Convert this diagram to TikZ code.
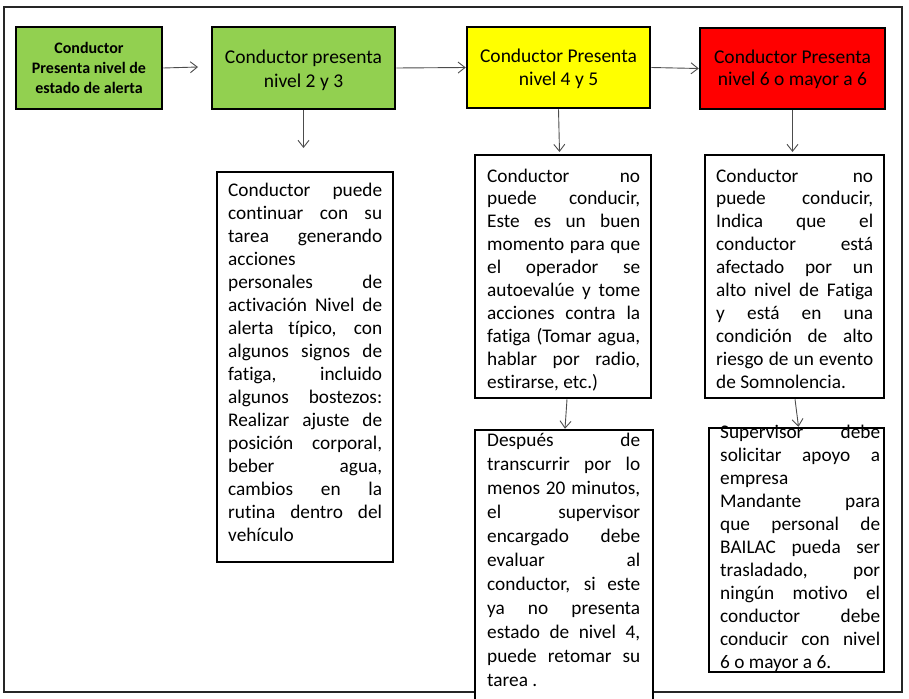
\documentclass[tikz,border=0pt]{standalone}
\usepackage{fontspec}
\setmainfont{Carlito}[Ligatures={NoCommon}]
\usetikzlibrary{arrows.meta}
\newcommand\rsp{\spaceskip=0pt\xspaceskip=0pt\relax}
\newcommand\jl[1]{\makebox[\linewidth][s]{\rsp #1}}
\newcommand\cl[1]{\makebox[\linewidth][c]{\rsp #1}}
\definecolor{boxgreen}{HTML}{92D050}
\definecolor{boxyellow}{HTML}{FFFF00}
\definecolor{boxred}{HTML}{FF0000}
\begin{document}
\begin{tikzpicture}[x=1pt,y=-1pt,
  hbox/.style={draw=black, line width=2.5pt, rectangle, inner sep=0pt},
  arr/.style={draw=black!70, line width=0.9pt, -{Straight Barb[length=7pt,width=11pt]}},
  frame/.style={draw=black!85, line width=1.5pt},
  head/.style={inner sep=0pt, anchor=base, align=center, font=\fontsize{19.5}{23.2}\selectfont},
  body/.style={inner sep=0pt, anchor=base west, align=left}]
\useasboundingbox (0,0) rectangle (909,698);
\clip (0,0) rectangle (909,698);
\draw[frame] (4,7) rectangle (902,692);
% header boxes
\node[hbox, fill=boxgreen, minimum width=146pt, minimum height=82pt] (b1) at (89,68) {};
\node[hbox, fill=boxgreen, minimum width=183pt, minimum height=82pt] (b2) at (303.5,68) {};
\node[hbox, fill=boxyellow, minimum width=183pt, minimum height=81pt] (b3) at (558.5,67.5) {};
\node[hbox, fill=boxred, minimum width=185pt, minimum height=81pt] (b4) at (792.5,68.5) {};
% text boxes
\node[hbox, fill=white, minimum width=176pt, minimum height=390pt] (b5) at (305,367) {};
\node[hbox, fill=white, minimum width=176pt, minimum height=243pt] (b6) at (563,276.5) {};
\node[hbox, fill=white, minimum width=179pt, minimum height=243pt] (b7) at (794.5,276.5) {};
\node[hbox, fill=white, minimum width=178pt, minimum height=280pt] (b8) at (564,570) {};
\node[hbox, fill=white, minimum width=175pt, minimum height=244pt] (b9) at (796.5,550) {};
% header texts
\node[inner sep=0pt, anchor=base, align=center, text width=146pt, font=\fontsize{16}{20}\selectfont\bfseries] (t1) at (89,53.3) {\cl{Conductor}\\\cl{Presenta nivel de}\\\cl{estado de alerta}};
\node[head, text width=183pt] (t2) at (303.5,64) {\cl{Conductor presenta}\\\cl{nivel 2 y 3}};
\node[head, text width=183pt, font=\fontsize{19.5}{22.4}\selectfont] (t3) at (558.5,62.7) {\cl{Conductor Presenta}\\\cl{nivel 4 y 5}};
\node[head, text width=185pt, font=\fontsize{19.5}{22.7}\selectfont] (t4) at (792.5,63.3) {\cl{Conductor Presenta}\\\cl{nivel 6 o mayor a 6}};
% body texts
\node[body, text width=154pt, font=\fontsize{19.3}{23}\selectfont] (t5) at (228,196) {\rsp
\jl{Conductor puede}\\
\jl{continuar con su}\\
\jl{tarea generando}\\
acciones\\
\jl{personales de}\\
\jl{activación Nivel de}\\
\jl{alerta típico, con}\\
\jl{algunos signos de}\\
\jl{fatiga, incluido}\\
\jl{algunos bostezos:}\\
\jl{Realizar ajuste de}\\
\jl{posición corporal,}\\
\jl{beber agua,}\\
\jl{cambios en la}\\
\jl{rutina dentro del}\\
vehículo};
\node[body, text width=153pt, font=\fontsize{19.3}{22.9}\selectfont] (t6) at (487,182) {\rsp
\jl{Conductor no}\\
\jl{puede conducir,}\\
\jl{Este es un buen}\\
\jl{momento para que}\\
\jl{el operador se}\\
\jl{autoevalúe y tome}\\
\jl{acciones contra la}\\
\jl{fatiga (Tomar agua,}\\
\jl{hablar por radio,}\\
\rsp estirarse, etc.)};
\node[body, text width=157pt, font=\fontsize{19.3}{22.9}\selectfont] (t7) at (716,182) {\rsp
\jl{Conductor no}\\
\jl{puede conducir,}\\
\jl{Indica que el}\\
\jl{conductor está}\\
\jl{afectado por un}\\
\jl{alto nivel de Fatiga}\\
\jl{y está en una}\\
\jl{condición de alto}\\
\jl{riesgo de un evento}\\
\rsp de Somnolencia.};
\node[body, text width=153pt, font=\fontsize{19.3}{24}\selectfont] (t8) at (487,446) {\rsp
\jl{Después de}\\
\jl{transcurrir por lo}\\
\jl{menos 20 minutos,}\\
\jl{el supervisor}\\
\jl{encargado debe}\\
\jl{evaluar al}\\
\jl{conductor, si este}\\
\jl{ya no presenta}\\
\jl{estado de nivel 4,}\\
\jl{puede retomar su}\\
\rsp tarea .};
\node[body, text width=160pt, font=\fontsize{19.3}{23}\selectfont] (t9) at (720,438.5) {\rsp
\jl{Supervisor debe}\\
\jl{solicitar apoyo a}\\
empresa\\
\jl{Mandante para}\\
\jl{que personal de}\\
\jl{BAILAC pueda ser}\\
\jl{trasladado, por}\\
\jl{ningún motivo el}\\
\jl{conductor debe}\\
\jl{conducir con nivel}\\
\rsp 6 o mayor a 6.};
% free arrow ends
\coordinate (a1) at (198,67);
\coordinate (a2) at (303.5,148);
\coordinate (a3) at (559.5,152);
\coordinate (a4) at (792.5,152);
% connectors
\draw[arr] (b1.east) -- (a1);
\draw[arr] (b2.east) -- (b3.west);
\draw[arr] (b3.east) -- (b4.west);
\draw[arr] (b2.south) -- (a2);
\draw[arr] (b3.south) -- (a3);
\draw[arr] (b4.south) -- (a4);
\draw[arr] ([xshift=4pt]b6.south) -- ([xshift=1pt]b8.north);
\draw[arr] ([xshift=0.5pt]b7.south) -- ([xshift=2pt]b9.north);
\end{tikzpicture}
\end{document}
